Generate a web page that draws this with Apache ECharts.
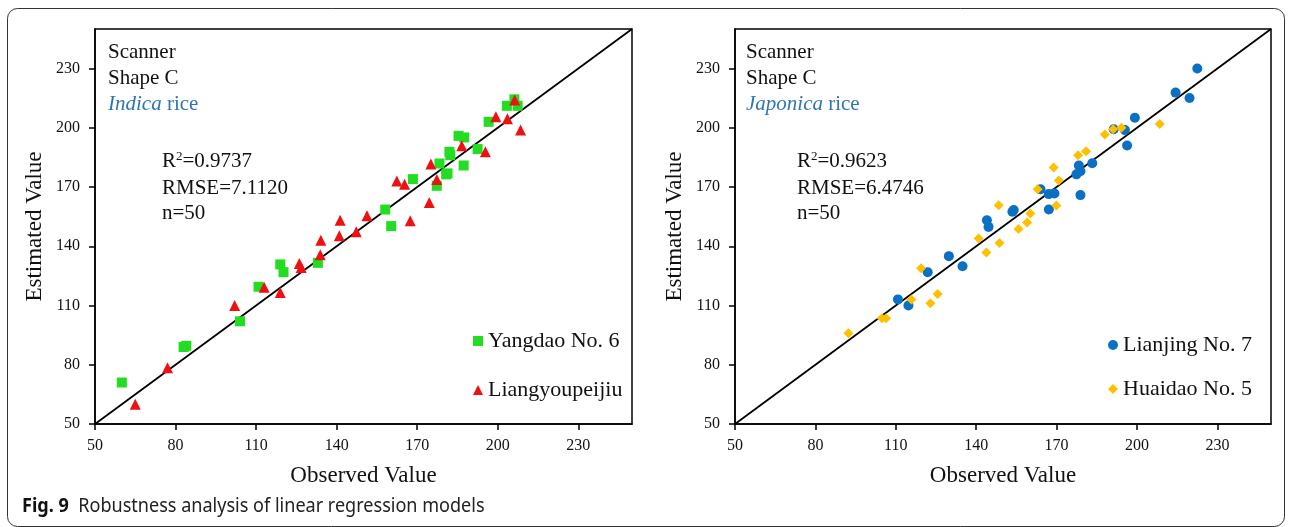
<!DOCTYPE html>
<html>
<head>
<meta charset="utf-8">
<script src="https://cdn.jsdelivr.net/npm/echarts@6/dist/echarts.min.js"></script>
<style>
  html, body { margin: 0; padding: 0; background: #fff; }
  #chart { width: 1292px; height: 527px; }
</style>
</head>
<body>
<div id="chart"></div>
<script>
// Observed vs. estimated values for two rice types, with the 1:1 line.
const tickValues = [50, 80, 110, 140, 170, 200, 230];
const axisRange = [50, 250];
const identityLine = [[50, 50], [250, 250]];

// Indica rice
const yangdaoNo6 = [
  [60, 71], [83, 89], [84, 89.6], [104, 102], [110.9, 119.5], [119, 130.8], [120.2, 126.9],
  [133, 131.6], [158.1, 158.6], [160.3, 150.2], [168.4, 174], [177.3, 170.6], [180.8, 176.4],
  [181.3, 176.9], [178.3, 181.9], [182, 187.8], [182.3, 186.1], [187.3, 180.9], [185.4, 195.9],
  [187.5, 195.1], [192.5, 189.2], [196.6, 203], [203.4, 211.1], [206.2, 214.4], [207.4, 211.1]
];
const liangyoupeijiu = [
  [65, 60], [77, 78.5], [102, 110], [113, 119.2], [119, 116.6], [126.1, 131.3], [126.8, 129.3],
  [133.9, 135.7], [134.1, 143.1], [141, 145.3], [141.3, 153.2], [147.3, 147.3], [151.3, 155.4],
  [167.4, 152.9], [174.5, 162.2], [162.4, 173], [165.3, 171.4], [177.3, 173.8], [175.1, 181.6],
  [186.6, 190.9], [195.4, 187.8], [199.3, 205.6], [203.6, 204.6], [206.3, 214], [208.5, 198.8]
];

// Japonica rice
const lianjingNo7 = [
  [110.8, 113.1], [114.7, 110], [121.9, 126.8], [129.8, 135], [134.9, 129.9], [144, 153.2],
  [144.6, 149.8], [154, 158.3], [153.5, 157.5], [164, 168.9], [167.1, 166.4], [169.2, 166.7],
  [167.1, 158.6], [177.4, 176.4], [178.3, 180.9], [178.9, 178], [178.9, 165.9], [183.3, 182],
  [191.3, 199.2], [195.5, 198.8], [196.3, 191], [199.2, 205.1], [214.4, 217.8], [219.6, 215.1],
  [222.5, 230]
];
const huaidaoNo5 = [
  [92.3, 95.9], [104.8, 103.5], [106.4, 103.5], [115.8, 113.1], [119.4, 128.8], [122.9, 111.2],
  [125.6, 115.8], [140.9, 143.9], [143.8, 136.8], [148.7, 141.7], [148.4, 160.8], [155.8, 148.7],
  [159, 152], [160.2, 156.6], [162.9, 168.9], [168.9, 179.9], [170.8, 173.3], [169.9, 160.6],
  [178, 186.1], [181, 188.1], [188, 196.6], [191.1, 199.2], [194.2, 200], [208.5, 201.9]
];

const panelLabels = [
  { lines: ['Scanner', 'Shape C'], type: 'Indica', r2: '0.9737', rmse: '7.1120', n: '50' },
  { lines: ['Scanner', 'Shape C'], type: 'Japonica', r2: '0.9623', rmse: '6.4746', n: '50' }
];

const serif = '"Liberation Serif", "Times New Roman", serif';
const BLUE_TEXT = '#2e75b6';

function axisPair(gridIndex) {
  const common = {
    type: 'value', gridIndex, min: axisRange[0], max: axisRange[1],
    splitLine: { show: false },
    axisLine: { show: true, onZero: false, lineStyle: { color: '#000', width: 1.5 } },
    axisTick: { show: true, inside: false, length: 6, customValues: tickValues,
                lineStyle: { color: '#000', width: 1.5 } },
    axisLabel: { customValues: tickValues, color: '#111', fontFamily: serif, fontSize: 16 },
    nameLocation: 'middle',
    nameTextStyle: { color: '#111', fontFamily: serif, fontSize: 23 }
  };
  const x = Object.assign({}, common, {
    name: 'Observed Value', nameGap: 40,
    axisLabel: Object.assign({}, common.axisLabel, { margin: 14 })
  });
  const y = Object.assign({}, common, {
    name: 'Estimated Value', nameGap: 49,
    axisLabel: Object.assign({}, common.axisLabel, { margin: 15 })
  });
  return [x, y];
}

const [x0, y0] = axisPair(0);
const [x1, y1] = axisPair(1);

function scatter(name, data, idx, symbol, size, color, z) {
  return {
    name, type: 'scatter', xAxisIndex: idx, yAxisIndex: idx, data,
    symbol, symbolSize: size, itemStyle: { color, opacity: 1 }, z,
    emphasis: { disabled: true }
  };
}
function oneToOne(idx) {
  return {
    type: 'line', xAxisIndex: idx, yAxisIndex: idx, data: identityLine,
    symbol: 'none', lineStyle: { color: '#000', width: 1.8 }, z: 1, silent: true
  };
}

function panelText(label, left) {
  const els = [];
  const fs = 21;
  label.lines.forEach((t, i) => {
    els.push({ type: 'text', x: left, y: 52 + i * 26,
      style: { text: t, font: fs + 'px ' + serif, fill: '#111', verticalAlign: 'middle' } });
  });
  els.push({ type: 'text', x: left, y: 104,
    style: { text: '{i|' + label.type + '}{r| rice}', verticalAlign: 'middle',
      rich: {
        i: { fontFamily: serif, fontSize: fs, fontStyle: 'italic', fill: BLUE_TEXT },
        r: { fontFamily: serif, fontSize: fs, fill: BLUE_TEXT }
      } } });
  return els;
}
function statText(label, left) {
  const fs = 21;
  const base = { fontFamily: serif, fontSize: fs, fill: '#111' };
  return [
    { type: 'text', x: left, y: 161,
      style: { text: '{a|R}{s|2}{a|=' + label.r2 + '}', verticalAlign: 'middle',
        rich: { a: base, s: { fontFamily: serif, fontSize: 13, fill: '#111', verticalAlign: 'top' } } } },
    { type: 'text', x: left, y: 188,
      style: { text: 'RMSE=' + label.rmse, font: fs + 'px ' + serif, fill: '#111', verticalAlign: 'middle' } },
    { type: 'text', x: left, y: 213,
      style: { text: 'n=' + label.n, font: fs + 'px ' + serif, fill: '#111', verticalAlign: 'middle' } }
  ];
}

const legendText = { color: '#111', fontFamily: serif, fontSize: 22 };
const sans = '"Noto Sans", "Open Sans", sans-serif';

const option = {
  backgroundColor: '#fff',
  animation: false,
  grid: [
    { left: 95, top: 29, width: 537, height: 395, show: true, borderColor: '#000', borderWidth: 1.5, backgroundColor: 'transparent' },
    { left: 735, top: 29, width: 536, height: 395, show: true, borderColor: '#000', borderWidth: 1.5, backgroundColor: 'transparent' }
  ],
  xAxis: [x0, x1],
  yAxis: [y0, y1],
  legend: [
    { data: [{ name: 'Yangdao No. 6', icon: 'rect' }, { name: 'Liangyoupeijiu', icon: 'triangle' }],
      orient: 'vertical', left: 468, top: 325, itemWidth: 10, itemHeight: 10, itemGap: 27,
      textStyle: legendText, selectedMode: false },
    { data: [{ name: 'Lianjing No. 7', icon: 'circle' }, { name: 'Huaidao No. 5', icon: 'diamond' }],
      orient: 'vertical', left: 1103, top: 329, itemWidth: 10, itemHeight: 10, itemGap: 22,
      textStyle: legendText, selectedMode: false }
  ],
  series: [
    oneToOne(0),
    scatter('Yangdao No. 6', yangdaoNo6, 0, 'rect', 10, '#22dd22', 3),
    scatter('Liangyoupeijiu', liangyoupeijiu, 0, 'triangle', 11, '#ee1111', 4),
    oneToOne(1),
    scatter('Lianjing No. 7', lianjingNo7, 1, 'circle', 10, '#0b70c2', 3),
    scatter('Huaidao No. 5', huaidaoNo5, 1, 'diamond', 10, '#ffc000', 4)
  ],
  graphic: [
    { type: 'rect', shape: { x: 7.5, y: 8.5, width: 1277, height: 518, r: 10 },
      style: { fill: 'none', stroke: '#333', lineWidth: 1 }, z: -10, silent: true },
    ...panelText(panelLabels[0], 108),
    ...statText(panelLabels[0], 162),
    ...panelText(panelLabels[1], 746),
    ...statText(panelLabels[1], 797),
    { type: 'text', x: 22, y: 507,
      style: { text: '{b|Fig. 9}   {r|Robustness analysis of linear regression models}', verticalAlign: 'middle',
        rich: {
          b: { fontFamily: sans, fontSize: 19, fontWeight: 'bold', fill: '#111' },
          r: { fontFamily: sans, fontSize: 19, fill: '#222' }
        } }, scaleX: 0.95 }
  ]
};

const chart = echarts.init(document.getElementById('chart'), null, { renderer: 'canvas' });
chart.setOption(option);
</script>
</body>
</html>
